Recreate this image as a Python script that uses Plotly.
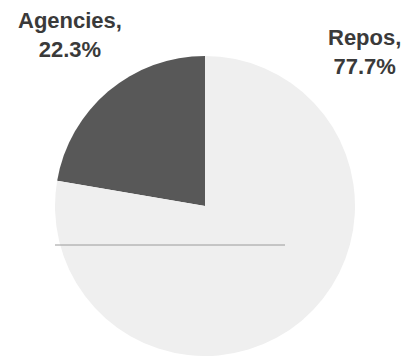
import plotly.graph_objects as go

# Portfolio composition
labels = ["Agencies", "Repos"]
shares = [22.3, 77.7]
slice_colors = ["#585858", "#efefef"]

W, H = 409, 356

fig = go.Figure(
    go.Pie(
        labels=labels,
        values=shares,
        sort=False,
        direction="clockwise",
        rotation=-shares[0] / 100 * 360,
        textinfo="none",
        hoverinfo="label+percent",
        marker=dict(colors=slice_colors, line=dict(width=0)),
        domain=dict(x=[55 / W, 355 / W], y=[0, (H - 56) / H]),
        showlegend=False,
    )
)

label_font = dict(family="Liberation Sans, Arial, sans-serif", size=22, color="#3a3a3a")
label_pos = {"Agencies": (70, 35), "Repos": (364, 52)}
for name, val in zip(labels, shares):
    x, y = label_pos[name]
    fig.add_annotation(
        x=x / W, y=1 - y / H, xref="paper", yref="paper",
        text=f"<b>{name},<br>{val:.1f}%</b>",
        showarrow=False, font=label_font, align="center",
        xanchor="center", yanchor="middle",
    )

# faint horizontal rule across the pie
fig.add_shape(
    type="line", xref="paper", yref="paper",
    x0=55 / W, x1=285 / W, y0=1 - 245 / H, y1=1 - 245 / H,
    line=dict(color="#9a9a9a", width=1),
)

fig.update_layout(
    width=W, height=H,
    margin=dict(l=0, r=0, t=0, b=0),
    paper_bgcolor="white", plot_bgcolor="white",
)

fig.write_html("out.html")
